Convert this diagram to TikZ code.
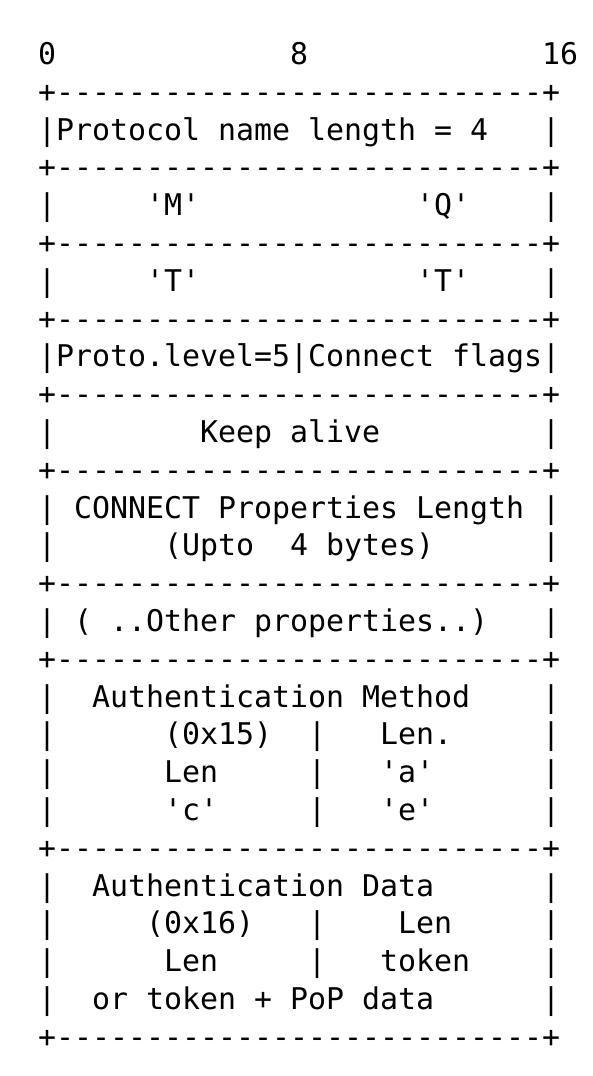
\documentclass[tikz,border=0pt]{standalone}
\usepackage{fontspec}
\setmonofont{DejaVu Sans Mono}

\newcommand{\sepline}{+---------------------------+}

\begin{document}
\begin{tikzpicture}[x=1pt, y=-1pt,
        ascii/.style={anchor=base west, inner sep=0pt, yshift=-2.5pt, font=\ttfamily\fontsize{29.9}{36}\selectfont}]
        \useasboundingbox (0,0) rectangle (592,1076);

        \node[ascii] (ruler) at (38,62) {0~~~~~~~~~~~~~8~~~~~~~~~~~~~16};
        \node[ascii] (sep0) at (38,99.8) {\sepline};
        \node[ascii] (name) at (38,137.6) {|Protocol name length = 4~~~|};
        \node[ascii] (sep1) at (38,175.4) {\sepline};
        \node[ascii] (mq) at (38,213.2) {|~~~~~'M'~~~~~~~~~~~~'Q'~~~~|};
        \node[ascii] (sep2) at (38,251) {\sepline};
        \node[ascii] (tt) at (38,288.8) {|~~~~~'T'~~~~~~~~~~~~'T'~~~~|};
        \node[ascii] (sep3) at (38,326.6) {\sepline};
        \node[ascii] (level) at (38,364.4) {|Proto.level=5|Connect flags|};
        \node[ascii] (sep4) at (38,402.2) {\sepline};
        \node[ascii] (alive) at (38,440) {|~~~~~~~~Keep alive~~~~~~~~~|};
        \node[ascii] (sep5) at (38,477.8) {\sepline};
        \node[ascii] (props) at (38,515.6) {|~CONNECT Properties Length~|};
        \node[ascii] (upto) at (38,553.4) {|~~~~~~(Upto~~4 bytes)~~~~~~|};
        \node[ascii] (sep6) at (38,591.2) {\sepline};
        \node[ascii] (other) at (38,629) {|~( ..Other properties..)~~~|};
        \node[ascii] (sep7) at (38,666.8) {\sepline};

        % authentication method
        \node[ascii] (method) at (38,704.6) {|~~Authentication Method~~~~|};
        \node[ascii] (mid) at (38,742.4) {|~~~~~~(0x15)~~|~~~Len.~~~~~|};
        \node[ascii] (mlen) at (38,780.2) {|~~~~~~Len~~~~~|~~~'a'~~~~~~|};
        \node[ascii] (mce) at (38,818) {|~~~~~~'c'~~~~~|~~~'e'~~~~~~|};
        \node[ascii] (sep8) at (38,855.8) {\sepline};

        % authentication data
        \node[ascii] (data) at (38,893.6) {|~~Authentication Data~~~~~~|};
        \node[ascii] (did) at (38,931.4) {|~~~~~(0x16)~~~|~~~~Len~~~~~|};
        \node[ascii] (dlen) at (38,969.2) {|~~~~~~Len~~~~~|~~~token~~~~|};
        \node[ascii] (pop) at (38,1007) {|~~or token + PoP data~~~~~~|};
        \node[ascii] (sep9) at (38,1044.8) {\sepline};
    \end{tikzpicture}
\end{document}
